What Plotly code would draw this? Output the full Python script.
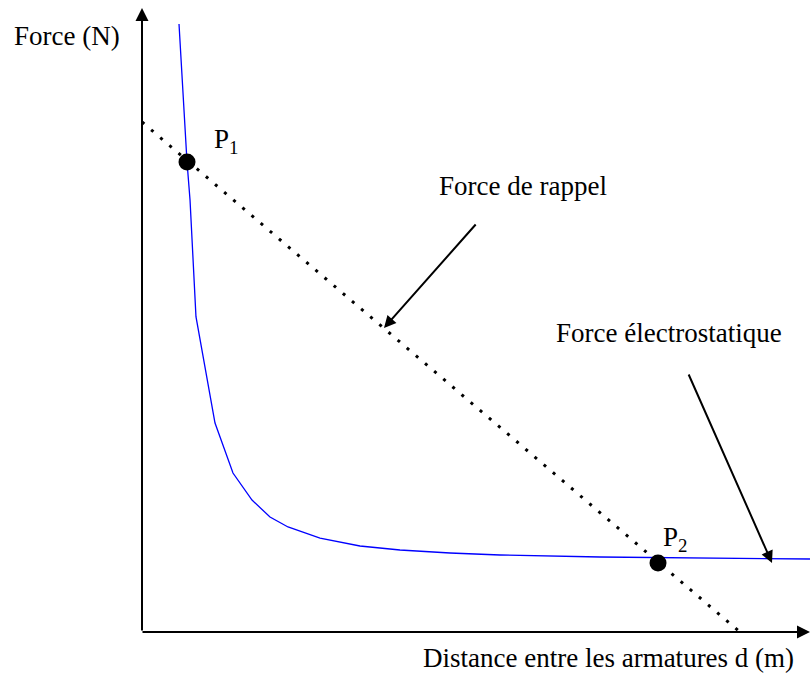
import plotly.graph_objects as go

# ---- data (in axis units, x: 0..10, y: 0..10) ----
curve_x = [0.554, 0.674, 0.719, 0.808, 1.093, 1.362, 1.647, 1.916, 2.186, 2.665,
           3.263, 3.862, 4.611, 5.359, 6.856, 8.353, 10.0]
curve_y = [9.744, 7.532, 6.923, 5.053, 3.349, 2.548, 2.115, 1.843, 1.683, 1.506,
           1.378, 1.314, 1.266, 1.234, 1.202, 1.186, 1.170]

spring_x = [0.0, 8.952]
spring_y = [8.173, 0.0]

points_x = [0.674, 7.725]
points_y = [7.532, 1.106]
point_labels = ["P<sub>1</sub>", "P<sub>2</sub>"]

# ---- layout geometry ----
W, H = 811, 675
L, R, T, B = 142, 1, 8, 43
PW, PH = W - L - R, H - T - B


def px2x(px):
    return (px - L) / PW * 10


def py2y(py):
    return (H - B - py) / PH * 10


def px2p(px):
    return (px - L) / PW


def py2p(py):
    return (H - B - py) / PH


FONT = dict(family="Liberation Serif, Times New Roman, serif", size=27, color="black")

fig = go.Figure()
fig.add_trace(go.Scatter(x=curve_x, y=curve_y, mode="lines",
                         line=dict(color="#0000FF", width=1.3), hoverinfo="skip"))
fig.add_trace(go.Scatter(x=spring_x, y=spring_y, mode="lines",
                         line=dict(color="black", width=3, dash="3px,9px"), hoverinfo="skip"))
fig.add_trace(go.Scatter(x=points_x, y=points_y, mode="markers",
                         marker=dict(color="black", size=17), hoverinfo="skip"))

ann = []
# axes with arrowheads (paper coords, tail offsets in pixels)
ann.append(dict(x=px2p(142), y=py2p(8), xref="paper", yref="paper",
                ax=0, ay=632 - 8, text="", showarrow=True, arrowhead=2, arrowsize=1.3,
                arrowwidth=2, arrowcolor="black", standoff=0, startstandoff=0))
ann.append(dict(x=px2p(821), y=py2p(632), xref="paper", yref="paper",
                ax=-(821 - 141), ay=0, text="", showarrow=True, arrowhead=2, arrowsize=1.3,
                arrowwidth=2, arrowcolor="black", standoff=0, startstandoff=0))
# pointer arrows
ann.append(dict(x=px2x(384), y=py2y(328), ax=px2x(477), ay=py2y(223),
                xref="x", yref="y", axref="x", ayref="y",
                text="", showarrow=True, arrowhead=2, arrowsize=1.2, arrowwidth=2,
                arrowcolor="black", standoff=0))
ann.append(dict(x=px2x(772), y=py2y(563), ax=px2x(688), ay=py2y(373),
                xref="x", yref="y", axref="x", ayref="y",
                text="", showarrow=True, arrowhead=2, arrowsize=1.2, arrowwidth=2,
                arrowcolor="black", standoff=0))

# texts: (text, left px, middle px)
texts = [
    ("Force (N)", 13, 36),
    (point_labels[0], 213, 141),
    ("Force de rappel", 438, 186),
    ("Force électrostatique", 555, 333),
    (point_labels[1], 662, 539),
    ("Distance entre les armatures d (m)", 422, 658),
]
for t, lx, my in texts:
    ann.append(dict(x=px2p(lx), y=py2p(my), xref="paper", yref="paper", text=t,
                    showarrow=False, xanchor="left", yanchor="middle",
                    font=FONT, borderpad=0))

fig.update_layout(
    width=W, height=H, autosize=False,
    margin=dict(l=L, r=R, t=T, b=B, pad=0),
    paper_bgcolor="white", plot_bgcolor="white",
    showlegend=False,
    xaxis=dict(range=[0, 10], visible=False, fixedrange=True),
    yaxis=dict(range=[0, 10], visible=False, fixedrange=True),
    annotations=ann,
)

fig.write_html("out.html", config={"displayModeBar": False},
               post_script="document.body.style.margin='0';document.body.style.overflow='hidden';")
